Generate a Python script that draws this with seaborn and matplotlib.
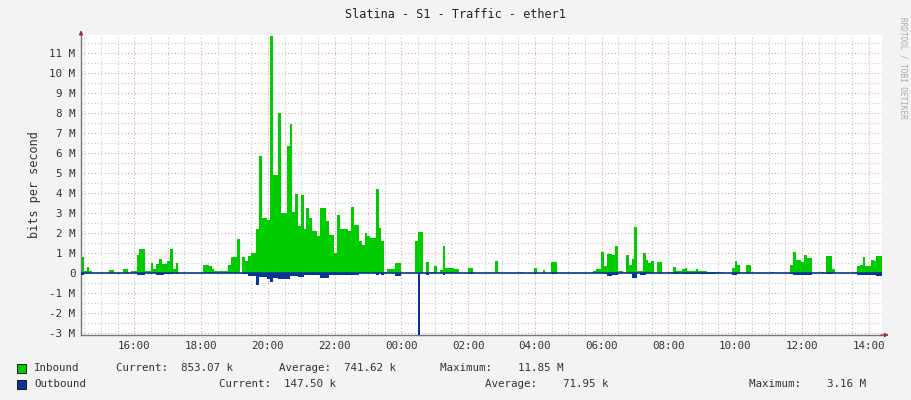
import matplotlib
matplotlib.use("Agg")
import matplotlib.pyplot as plt
import numpy as np
import pandas as pd
import seaborn as sns

# 5-minute samples (M bits/s), one row per hour starting at 14:24
inbound = [
    [0.8, 0.1, 0.3, 0.1, 0, 0, 0, 0, 0, 0, 0.15, 0.15],
    [0, 0, 0, 0.2, 0.2, 0, 0.1, 0.1, 0.9, 1.2, 1.2, 0.1],
    [0.1, 0.5, 0.2, 0.45, 0.7, 0.45, 0.45, 0.6, 1.2, 0.2, 0.5, 0],
    [0, 0, 0, 0, 0, 0, 0, 0, 0.4, 0.4, 0.35, 0.2],
    [0.1, 0.1, 0.1, 0.1, 0.1, 0.4, 0.8, 0.8, 1.7, 0, 0.8, 0.6],
    [0.85, 1.0, 1.0, 2.2, 5.85, 2.75, 2.75, 2.65, 11.85, 4.9, 4.9, 8.0],
    [3.0, 3.0, 6.35, 7.45, 3.05, 3.95, 2.35, 3.9, 2.2, 3.25, 2.75, 2.1],
    [2.1, 1.85, 3.25, 3.25, 2.6, 1.9, 1.9, 1.0, 2.9, 2.2, 2.2, 2.2],
    [2.1, 3.3, 2.4, 2.4, 1.6, 1.4, 2.0, 1.85, 1.75, 1.75, 4.2, 2.25],
    [1.6, 0.05, 0.2, 0.2, 0.2, 0.5, 0.5, 0, 0, 0, 0, 0],
    [1.6, 2.05, 2.05, 0, 0.55, 0.07, 0.07, 0.37, 0, 0.17, 1.37, 0.25],
    [0.25, 0.25, 0.2, 0.2, 0, 0, 0, 0.25, 0.25, 0, 0, 0],
    [0, 0, 0, 0, 0, 0.58, 0, 0, 0, 0, 0, 0],
    [0, 0.07, 0.07, 0, 0, 0, 0, 0.27, 0, 0, 0.17, 0],
    [0, 0.57, 0.57, 0, 0, 0, 0, 0, 0, 0, 0, 0],
    [0, 0, 0, 0, 0.08, 0.2, 0.2, 1.07, 0.37, 0.97, 0.97, 0.92],
    [1.37, 0.12, 0.12, 0.0, 0.92, 0.42, 0.7, 2.28, 0.08, 0.08, 1.0, 0.67],
    [0.5, 0.62, 0, 0.53, 0.53, 0, 0, 0.07, 0.07, 0.3, 0.12, 0.12],
    [0.2, 0.25, 0.12, 0.12, 0.12, 0.22, 0.08, 0.08, 0.12, 0.07, 0.07, 0.07],
    [0.07, 0.07, 0.07, 0, 0, 0, 0.25, 0.62, 0.42, 0, 0, 0.42],
    [0.42, 1.0, np.nan, np.nan, 0, 0, 0, 0, 0.07, 0, 0, 0],
    [0, 0, 0, 0.42, 1.07, 0.63, 0.63, 0.53, 0.92, 0.75, 0.75, 0],
    [0, 0, 0.07, 0, 0.87, 0.87, 0.2, 0, 0, 0, 0, 0],
    [0, 0, 0.07, 0.33, 0.42, 0.8, 0.33, 0.33, 0.67, 0.58, 0.87, 0.85],
]
outbound = [
    [0.1, 0, 0, 0, 0, 0, 0, 0, 0, 0, 0, 0],
    [0, 0.05, 0, 0, 0, 0, 0, 0, 0.08, 0.08, 0.08, 0],
    [0, 0, 0, 0.1, 0.12, 0.12, 0.05, 0.05, 0.05, 0, 0.05, 0],
    [0, 0, 0, 0, 0, 0, 0, 0, 0, 0, 0, 0],
    [0, 0, 0, 0, 0, 0, 0, 0, 0, 0, 0.05, 0.05],
    [0.13, 0.13, 0.13, 0.6, 0.2, 0.2, 0.2, 0.3, 0.45, 0.25, 0.25, 0.3],
    [0.3, 0.3, 0.3, 0.15, 0.15, 0.15, 0.2, 0.2, 0.1, 0.1, 0.1, 0.1],
    [0.1, 0.1, 0.25, 0.25, 0.25, 0.1, 0.1, 0.1, 0.1, 0.1, 0.1, 0.1],
    [0.1, 0.1, 0.1, 0.1, 0, 0, 0, 0, 0, 0, 0.08, 0],
    [0.08, 0, 0, 0, 0, 0.13, 0.13, 0, 0, 0, 0, 0],
    [0, 3.16, 0, 0, 0.08, 0, 0, 0, 0, 0, 0.08, 0],
    [0, 0, 0, 0, 0, 0, 0, 0.05, 0.05, 0, 0, 0],
    [0, 0, 0, 0, 0, 0, 0, 0, 0, 0, 0, 0],
    [0, 0, 0, 0, 0, 0, 0, 0.05, 0, 0, 0, 0],
    [0, 0.05, 0.05, 0, 0, 0, 0, 0, 0, 0, 0, 0],
    [0, 0, 0, 0, 0, 0, 0, 0, 0.05, 0.17, 0.17, 0.1],
    [0.1, 0, 0, 0, 0, 0, 0.25, 0.25, 0, 0.1, 0.1, 0],
    [0, 0, 0, 0, 0, 0, 0, 0, 0, 0.05, 0.05, 0],
    [0.05, 0.05, 0.05, 0.05, 0.05, 0.05, 0.05, 0.05, 0.05, 0.03, 0.03, 0.03],
    [0, 0, 0, 0, 0, 0, 0.1, 0.1, 0.05, 0, 0, 0],
    [0, 0.05, np.nan, np.nan, 0, 0, 0, 0, 0, 0, 0, 0],
    [0, 0, 0, 0.05, 0.1, 0.1, 0.1, 0.1, 0.1, 0.1, 0.1, 0],
    [0, 0, 0, 0, 0.05, 0.05, 0, 0, 0, 0, 0, 0],
    [0, 0, 0, 0.1, 0.12, 0.12, 0.12, 0.12, 0.12, 0.12, 0.15, 0.15],
]
start_hour = 14.4
step_hours = 5 / 60
tick_hours = [16, 18, 20, 22, 24, 26, 28, 30, 32, 34, 36, 38]
y_ticks = [-3, -2, -1, 0, 1, 2, 3, 4, 5, 6, 7, 8, 9, 10, 11]

inb = np.array(inbound, dtype=float).ravel()
outb = np.array(outbound, dtype=float).ravel()
n = len(inb)
df = pd.DataFrame({
    "hour": start_hour + np.arange(n + 1) * step_hours,
    "in": np.append(inb, inb[-1]),
    "out": -np.append(outb, outb[-1]),
})
df["zero"] = np.where(df["out"].isna(), np.nan, 0.0)

sns.set_style("white")
plt.rcParams["font.family"] = ["DejaVu Sans Mono"]
mono = dict(fontsize=7.8, color="#333333")

fig = plt.figure(figsize=(9.11, 4.0), dpi=100, facecolor="#f3f3f3")
ax = fig.add_axes([81 / 911, 65 / 400, 801 / 911, 300 / 400])
ax.set_facecolor("white")

# grid
for h in np.arange(14.5, 38.5, 0.5):
    major = abs(h - round(h)) < 1e-6 and int(round(h)) % 2 == 0
    ax.axvline(h, color="#e8a0a0" if major else "#c4c4c4", lw=0.8,
               ls=(0, (1, 2)), zorder=0)
for v in np.arange(-3, 12, 0.5):
    major = abs(v - round(v)) < 1e-6
    ax.axhline(v, color="#e8a0a0" if major else "#c4c4c4", lw=0.8,
               ls=(0, (1, 2)), zorder=0)

ax.fill_between(df["hour"], 0, df["in"], step="post", color="#00cc00",
                lw=0, zorder=2)
ax.fill_between(df["hour"], 0, df["out"], step="post", color="#0a3498",
                lw=0, zorder=3)
sns.lineplot(data=df, x="hour", y="zero", ax=ax, color="#0a3498", lw=1.2,
             zorder=4, drawstyle="steps-post")

ax.set_xlim(start_hour, start_hour + 24)
ax.set_ylim(-3.1, 11.9)
ax.set_xticks(tick_hours)
ax.set_xticklabels([f"{h % 24:02d}:00" for h in tick_hours], **mono)
ax.set_yticks(y_ticks)
ax.set_yticklabels([("0" if v == 0 else f"{v} M") for v in y_ticks], **mono)
ax.tick_params(length=0, pad=4)
ax.set_xlabel("")
for s in ["top", "right"]:
    ax.spines[s].set_visible(False)
for s in ["left", "bottom"]:
    ax.spines[s].set_color("#777777")
    ax.spines[s].set_linewidth(1)
ax.set_ylabel("bits per second", fontsize=8.5, color="#333333", labelpad=6)

# axis arrows
ax.annotate("", xy=(0, 1.025), xytext=(0, 0.99), xycoords="axes fraction",
            arrowprops=dict(arrowstyle="-|>", color="#a03030", lw=0.8, mutation_scale=6))
ax.annotate("", xy=(1.012, 0), xytext=(0.995, 0), xycoords="axes fraction",
            arrowprops=dict(arrowstyle="-|>", color="#a03030", lw=0.8, mutation_scale=6))

fig.text(0.5, 1 - 14 / 400, "Slatina - S1 - Traffic - ether1", ha="center",
         va="center", fontsize=8.5, color="#222222")
fig.text(903 / 911, 0.83, "RRDTOOL / TOBI OETIKER", rotation=270, ha="center",
         va="center", fontsize=5.5, color="#aaaaaa")

# legend
for ypix, col in [(368, "#00cc00"), (384, "#0a3498")]:
    fig.patches.append(plt.Rectangle((17 / 911, 1 - (ypix + 5) / 400), 9 / 911, 9 / 400,
                                     transform=fig.transFigure, facecolor=col,
                                     edgecolor="black", lw=0.6))
rows = [
    (368, [(34, "Inbound"), (116, "Current:  853.07 k"), (279, "Average:  741.62 k"),
           (440, "Maximum:    11.85 M")]),
    (384, [(34, "Outbound"), (219, "Current:  147.50 k"), (485, "Average:    71.95 k"),
           (749, "Maximum:    3.16 M")]),
]
for ypix, items in rows:
    for xpix, txt in items:
        fig.text(xpix / 911, 1 - ypix / 400, txt, ha="left", va="center", **mono)

fig.savefig("out.png", dpi=100, facecolor=fig.get_facecolor())
